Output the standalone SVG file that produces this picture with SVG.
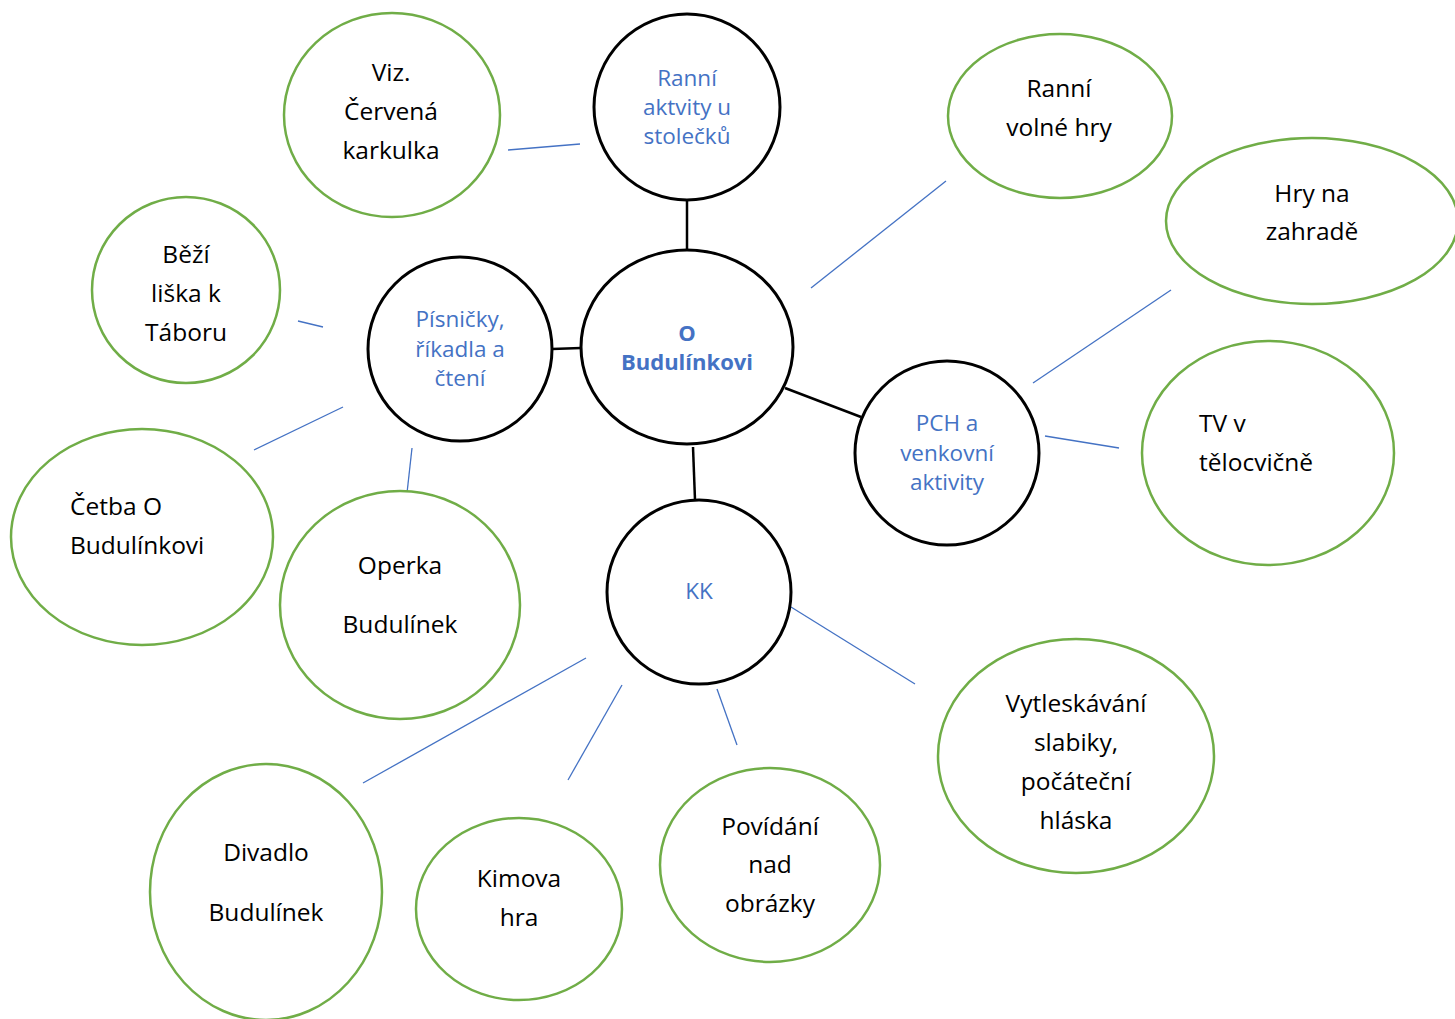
<svg xmlns="http://www.w3.org/2000/svg" width="1455" height="1019" viewBox="0 0 1455 1019">
<style>
.hub{fill:#fff;stroke:#000;stroke-width:3}
.leaf{fill:#fff;stroke:#70AD47;stroke-width:2.5}
.k{stroke:#000;stroke-width:2.5;fill:none}
.b{stroke:#4472C4;stroke-width:1.3;fill:none}
text{font-family:"Open Sans","Liberation Sans",sans-serif;dominant-baseline:central}
.tb{fill:#4472C4;font-size:22.5px;text-anchor:middle}
.tk{fill:#000;font-size:24.5px;text-anchor:middle}
.tl{fill:#000;font-size:24.5px;text-anchor:start}
.bold{font-weight:bold;font-size:22px}
</style>
<rect width="1455" height="1019" fill="#fff"/>
<g id="connectors">
<line class="k" x1="687" y1="200" x2="687" y2="250"/>
<line class="k" x1="552" y1="349" x2="581" y2="348"/>
<line class="k" x1="785" y1="388" x2="861" y2="417"/>
<line class="k" x1="693" y1="447" x2="695" y2="500"/>
<line class="b" x1="508" y1="150" x2="580" y2="144"/>
<line class="b" x1="298" y1="321" x2="323" y2="327"/>
<line class="b" x1="254" y1="450" x2="343" y2="407"/>
<line class="b" x1="412" y1="448" x2="407" y2="493"/>
<line class="b" x1="811" y1="288" x2="946" y2="181"/>
<line class="b" x1="1033" y1="383" x2="1171" y2="290"/>
<line class="b" x1="1045" y1="436" x2="1119" y2="448"/>
<line class="b" x1="791" y1="607" x2="915" y2="684"/>
<line class="b" x1="586" y1="658" x2="363" y2="783"/>
<line class="b" x1="622" y1="685" x2="568" y2="780"/>
<line class="b" x1="717" y1="689" x2="737" y2="745"/>
</g>
<g id="center">
<ellipse class="hub" cx="687" cy="347" rx="106" ry="97"/>
<text class="tb bold" x="687" y="332">O</text>
<text class="tb bold" x="687" y="361">Budulínkovi</text>
</g>
<g id="ranni-aktivity">
<ellipse class="hub" cx="687" cy="107" rx="93" ry="93"/>
<text class="tb" x="687" y="77">Ranní</text>
<text class="tb" x="687" y="106">aktvity u</text>
<text class="tb" x="687" y="135">stolečků</text>
</g>
<g id="pisnicky">
<ellipse class="hub" cx="460" cy="349" rx="92" ry="92"/>
<text class="tb" x="460" y="318">Písničky,</text>
<text class="tb" x="460" y="348">říkadla a</text>
<text class="tb" x="460" y="377">čtení</text>
</g>
<g id="pch">
<ellipse class="hub" cx="947" cy="453" rx="92" ry="92"/>
<text class="tb" x="947" y="422">PCH a</text>
<text class="tb" x="947" y="452">venkovní</text>
<text class="tb" x="947" y="481">aktivity</text>
</g>
<g id="kk">
<ellipse class="hub" cx="699" cy="592" rx="92" ry="92"/>
<text class="tb" x="699" y="590">KK</text>
</g>
<g id="viz">
<ellipse class="leaf" cx="392" cy="115" rx="108" ry="102"/>
<text class="tk" x="391" y="71">Viz.</text>
<text class="tk" x="391" y="110">Červená</text>
<text class="tk" x="391" y="149">karkulka</text>
</g>
<g id="ranni-volne">
<ellipse class="leaf" cx="1060" cy="116" rx="112" ry="82"/>
<text class="tk" x="1059" y="87">Ranní</text>
<text class="tk" x="1059" y="126">volné hry</text>
</g>
<g id="hry-zahrada">
<ellipse class="leaf" cx="1312" cy="221" rx="146" ry="83"/>
<text class="tk" x="1312" y="192">Hry na</text>
<text class="tk" x="1312" y="230">zahradě</text>
</g>
<g id="bezi-liska">
<ellipse class="leaf" cx="186" cy="290" rx="94" ry="93"/>
<text class="tk" x="186" y="253">Běží</text>
<text class="tk" x="186" y="292">liška k</text>
<text class="tk" x="186" y="331">Táboru</text>
</g>
<g id="cetba">
<ellipse class="leaf" cx="142" cy="537" rx="131" ry="108"/>
<text class="tl" x="70" y="505">Četba O</text>
<text class="tl" x="70" y="544">Budulínkovi</text>
</g>
<g id="operka">
<ellipse class="leaf" cx="400" cy="605" rx="120" ry="114"/>
<text class="tk" x="400" y="564">Operka</text>
<text class="tk" x="400" y="623">Budulínek</text>
</g>
<g id="tv">
<ellipse class="leaf" cx="1268" cy="453" rx="126" ry="112"/>
<text class="tl" x="1199" y="422">TV v</text>
<text class="tl" x="1199" y="461">tělocvičně</text>
</g>
<g id="vytleskavani">
<ellipse class="leaf" cx="1076" cy="756" rx="138" ry="117"/>
<text class="tk" x="1076" y="702">Vytleskávání</text>
<text class="tk" x="1076" y="741">slabiky,</text>
<text class="tk" x="1076" y="780">počáteční</text>
<text class="tk" x="1076" y="819">hláska</text>
</g>
<g id="divadlo">
<ellipse class="leaf" cx="266" cy="892" rx="116" ry="128"/>
<text class="tk" x="266" y="851">Divadlo</text>
<text class="tk" x="266" y="911">Budulínek</text>
</g>
<g id="kimova">
<ellipse class="leaf" cx="519" cy="909" rx="103" ry="91"/>
<text class="tk" x="519" y="877">Kimova</text>
<text class="tk" x="519" y="916">hra</text>
</g>
<g id="povidani">
<ellipse class="leaf" cx="770" cy="865" rx="110" ry="97"/>
<text class="tk" x="770" y="825">Povídání</text>
<text class="tk" x="770" y="863">nad</text>
<text class="tk" x="770" y="902">obrázky</text>
</g>
</svg>
